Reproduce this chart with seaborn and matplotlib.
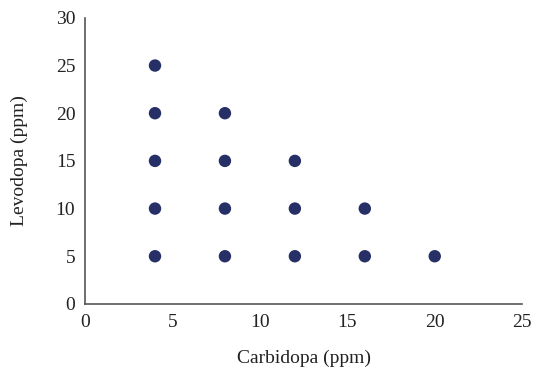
import pandas as pd
import matplotlib.pyplot as plt
import seaborn as sns

# Data
carbidopa = [4, 4, 4, 4, 4, 8, 8, 8, 8, 12, 12, 12, 16, 16, 20]
levodopa = [5, 10, 15, 20, 25, 5, 10, 15, 20, 5, 10, 15, 5, 10, 5]
x_ticks = [0, 5, 10, 15, 20, 25]
y_ticks = [0, 5, 10, 15, 20, 25, 30]

df = pd.DataFrame({'Carbidopa': carbidopa, 'Levodopa': levodopa})

sns.set_style('white')
plt.rcParams['font.family'] = ['Liberation Serif', 'DejaVu Serif']

fig = plt.figure(figsize=(5.35, 3.72), dpi=100)
ax = fig.add_axes([0.159, 0.183, 0.817, 0.769])

sns.scatterplot(x='Carbidopa', y='Levodopa', data=df, ax=ax,
                color='#262f66', s=80, edgecolor='none')

ax.set_xlim(0, 25)
ax.set_ylim(0, 30)
ax.set_xticks(x_ticks)
ax.set_yticks(y_ticks)
ax.tick_params(length=0, labelsize=14, colors='#222222', pad=7)
ax.set_xlabel('Carbidopa (ppm)', fontsize=14, color='#222222', labelpad=14)
ax.set_ylabel('Levodopa (ppm)', fontsize=14, color='#222222', labelpad=20)

for side in ['top', 'right']:
    ax.spines[side].set_visible(False)
for side in ['left', 'bottom']:
    ax.spines[side].set_color('#555555')
    ax.spines[side].set_linewidth(1.2)

plt.savefig('out.png', dpi=100)
